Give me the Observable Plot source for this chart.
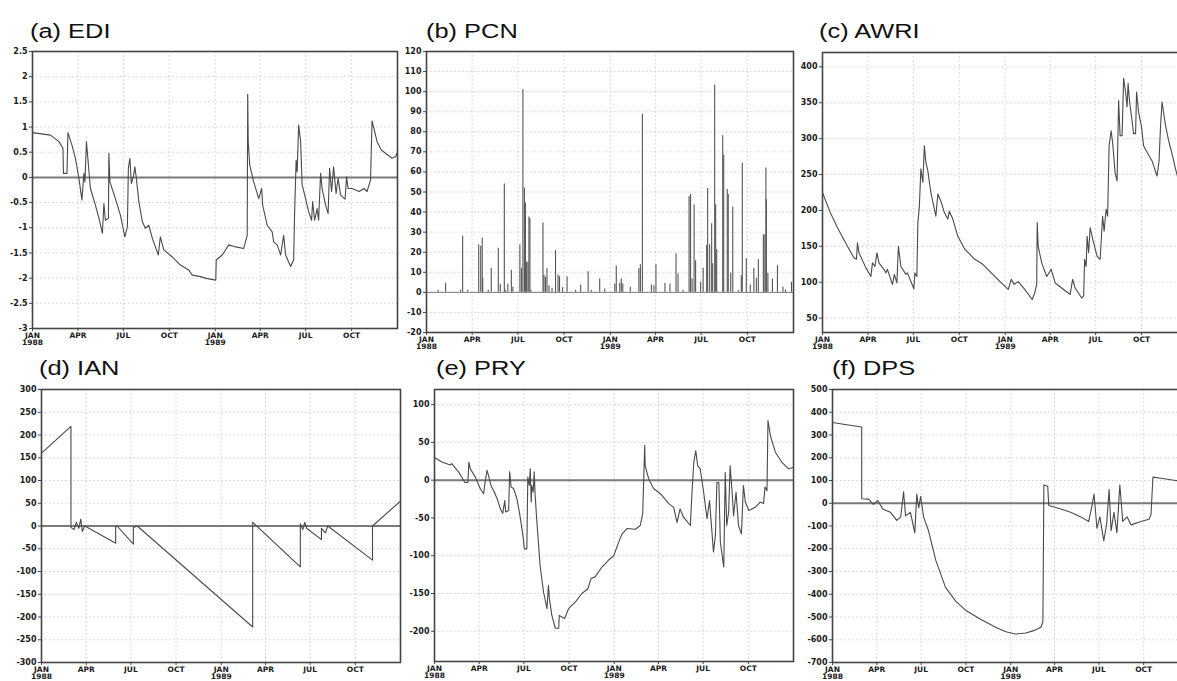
<!DOCTYPE html>
<html>
<head>
<meta charset="utf-8">
<script src="https://cdn.jsdelivr.net/npm/d3@7"></script>
<script src="https://cdn.jsdelivr.net/npm/@observablehq/plot@0.6"></script>
<style>
  html, body { margin: 0; padding: 0; background: #fff; }
  #fig { position: relative; width: 1177px; height: 681px; overflow: hidden; background: #fff; }
  .ttl { position: absolute; font-family: "Liberation Sans", Arial, sans-serif; font-size: 20px; line-height: 20px;
         color: #111; transform: scaleX(1.27); transform-origin: 0 0; white-space: nowrap; }
  .pn { position: absolute; }
</style>
</head>
<body>
<div id="fig"></div>
<script>
// ---- data (day offset from 1988-01-01, value) ----
const ediDays = [0,36,53,61,62,69,71,79,86,93,99,103,105,108,116,126,133,140,143,146,152,153,155,166,176,185,190,192,195,198,202,205,208,213,220,226,233,240,252,256,263,280,296,313,320,336,350,367,368,380,393,407,423,430,431,432,435,443,453,459,461,470,480,483,490,497,503,507,513,517,523,525,528,530,533,537,540,547,553,559,561,565,570,573,577,580,587,592,595,599,603,608,612,617,626,629,632,640,654,664,670,677,680,684,690,699,707,720,727,730];
const ediVals = [0.89,0.84,0.71,0.58,0.08,0.08,0.89,0.64,0.38,-0.02,-0.45,0.08,-0.09,0.71,-0.22,-0.55,-0.81,-1.11,-0.52,-0.85,-0.81,0.48,-0.09,-0.42,-0.75,-1.18,-0.98,0.18,0.38,-0.12,0.01,0.21,-0.02,-0.48,-0.88,-1.01,-0.95,-1.21,-1.54,-1.18,-1.44,-1.58,-1.74,-1.84,-1.94,-1.97,-2.01,-2.04,-1.64,-1.54,-1.34,-1.38,-1.41,-1.15,1.65,0.71,0.25,-0.09,-0.42,-0.22,-0.55,-0.95,-1.08,-1.28,-1.34,-1.54,-1.15,-1.54,-1.68,-1.77,-1.64,-0.68,0.34,0.11,1.04,0.71,-0.15,-0.42,-0.68,-0.85,-0.48,-0.85,-0.62,-0.85,0.08,-0.22,-0.55,-0.72,0.18,-0.28,0.21,-0.32,-0.02,-0.35,-0.43,0.01,-0.22,-0.22,-0.28,-0.22,-0.28,-0.05,1.12,0.97,0.71,0.54,0.48,0.38,0.41,0.48];

const pcnDays = [23,38,68,72,82,104,108,111,112,123,129,143,147,155,157,162,169,172,186,189,192,195,197,199,202,204,206,208,232,234,237,240,244,250,257,262,265,271,280,297,307,322,328,345,355,375,378,385,388,391,406,423,426,430,448,453,457,475,485,497,501,511,523,526,529,533,536,546,551,558,560,564,568,570,574,576,578,590,592,599,601,606,610,621,627,629,637,645,652,657,661,671,674,676,677,680,689,699,710,715,727];
const pcnVals = [1,4.5,1,28,1,23.7,23,27,7,1,12,22,4,54,1,4,11,2.5,23.7,12,101,52,44.5,15,15,37.5,36.7,1,34.5,8.7,7.5,11.7,3.3,2,20.8,8.7,7.8,2.3,7.8,1,3.7,10.3,1,6.7,1.7,4.2,13,4.5,6.7,4.2,2.5,11.7,13.7,88.7,3.7,3.3,13.7,4.5,4.2,19.2,9.2,1,47.8,48.7,6.7,43.7,15.8,5,12,23.3,51.7,23.7,34.2,14.2,103.3,43.7,21.2,78,68.3,51.2,48.7,9.5,42.5,1,8.3,64.2,16.7,3.7,12,7,16.2,28.7,28.7,62,46.2,9.5,6.7,13.3,2.5,1.2,5];

const awriDays = [0,15,30,50,63,68,70,73,87,97,100,105,109,113,123,127,130,140,144,149,152,157,167,170,183,185,189,191,194,197,201,204,207,211,217,227,231,238,244,251,254,261,271,285,305,321,338,358,372,378,384,392,405,420,425,429,430,432,439,449,458,466,479,496,501,506,519,523,525,528,530,533,536,540,543,550,556,561,564,568,571,574,578,581,586,590,593,596,600,603,607,610,612,615,620,623,627,629,633,639,643,650,660,670,674,677,680,687,694,701,707,714,731];
const awriVals = [225,198,176,150,134,132,155,141,120,108,127,122,141,127,118,113,118,97,111,99,150,122,111,113,91,113,108,183,206,258,239,290,267,255,225,192,223,211,197,188,199,188,164,146,132,125,113,99,90,104,97,101,90,76,85,97,183,150,127,108,118,99,92,83,104,92,78,81,132,122,164,141,176,164,155,136,132,192,171,202,192,290,311,295,253,241,353,304,304,384,365,344,377,351,325,307,307,365,337,316,290,281,269,248,269,318,351,318,295,276,258,239,205];

const ianDays = [0,60,60,66,71,76,80,83,88,92,151,151,154,187,187,195,430,430,527,527,532,536,540,570,570,578,583,674,674,731];
const ianVals = [160,219,-3,-8,8,-5,15,-12,0,-2,-38,-2,0,-40,-3,0,-222,8,-90,5,-8,8,-5,-30,-5,-15,0,-75,0,55];

const pryDays = [0,15,32,35,49,62,68,70,73,83,93,100,103,107,110,115,122,129,134,139,143,145,151,153,156,161,168,174,180,183,188,190,193,195,197,198,201,203,205,208,215,222,229,232,234,239,246,253,254,265,273,287,300,312,319,327,341,354,365,375,382,392,409,419,424,428,429,436,446,456,463,477,487,494,500,507,521,524,528,532,536,541,548,555,560,565,568,572,575,579,582,589,592,595,599,602,606,609,614,619,625,629,633,640,653,663,670,673,677,679,684,694,707,721,731];
const pryVals = [30,24,20,22,11,-3,-3,24,15,4,-11,-18,-3,13,6,-7,-16,-27,-38,-44,-27,-42,-40,11,-9,-11,-25,-47,-73,-91,-91,4,-7,15,-29,-7,-16,11,-20,-51,-113,-148,-170,-139,-157,-179,-196,-196,-179,-183,-170,-161,-150,-144,-130,-128,-115,-106,-100,-82,-71,-64,-65,-60,-44,46,19,2,-11,-16,-20,-31,-36,-56,-38,-49,-60,-20,24,39,19,15,-16,-51,-27,-69,-95,-73,-3,-3,-82,-115,10,-60,-42,19,-16,-47,-16,-60,-71,-7,-29,-40,-36,-29,-31,-9,-14,79,59,37,24,15,17];

const dpsDays = [0,29,60,60,74,84,93,103,119,132,140,146,150,160,169,173,177,181,187,197,212,232,253,273,304,335,356,376,397,413,428,432,434,442,444,469,489,510,526,532,537,543,549,557,563,568,572,578,584,590,596,605,613,633,650,654,658,674,705,731];
const dpsVals = [355,345,335,20,18,-5,12,-25,-40,-75,-60,50,-55,-40,-130,40,-20,30,-60,-120,-250,-370,-430,-470,-510,-545,-565,-575,-570,-560,-545,-520,80,75,-10,-25,-40,-60,-80,-20,40,-110,-60,-165,-90,60,-120,-40,-130,80,-80,-60,-95,-80,-70,-50,115,110,100,95];

// ---- ticks ----
const monthNames = ["JAN","APR","JUL","OCT"];
const quarterTicks = [1988,1989].flatMap(y => [0,3,6,9].map(m => new Date(Date.UTC(y, m, 1))));
const ediTicks = [2.5,2,1.5,1,0.5,0,-0.5,-1,-1.5,-2,-2.5,-3];
const pcnTicks = [120,110,100,90,80,70,60,50,40,30,20,10,0,-10,-20];
const awriTicks = [400,350,300,250,200,150,100,50];
const ianTicks = [300,250,200,150,100,50,0,-50,-100,-150,-200,-250,-300];
const pryTicks = [100,50,0,-50,-100,-150,-200];
const dpsTicks = [500,400,300,200,100,0,-100,-200,-300,-400,-500,-600,-700];

const t0 = Date.UTC(1988, 0, 1);
const toRows = (days, vals) => days.map((d, i) => ({date: new Date(t0 + d * 864e5), v: vals[i]}));
const xFmt = d => monthNames[d.getUTCMonth() / 3] + (d.getUTCMonth() === 0 ? "\n" + d.getUTCFullYear() : "");

const fig = document.getElementById("fig");

function panel(o) {
  const ml = 32, mr = 4, mt = 10, mb = 26;
  const w = o.x1 - o.x0, h = o.y1 - o.y0;
  const rows = toRows(o.days, o.vals);
  const grid = {stroke: "#c4c4c4", strokeOpacity: 1, strokeDasharray: "1.5,2.5", strokeWidth: 0.8};
  const marks = [
    Plot.gridY(o.yticks, grid),
    Plot.gridX(quarterTicks, grid),
  ];
  if (o.zero) marks.push(Plot.ruleY([0], {stroke: "#7a7a7a", strokeWidth: o.zeroW || 2}));
  if (o.bars) {
    marks.push(Plot.ruleX(rows, {x: "date", y1: 0, y2: "v", stroke: "#555", strokeWidth: 1.1}));
  } else {
    marks.push(Plot.line(rows, {x: "date", y: "v", stroke: "#4a4a4a", strokeWidth: 1.1, clip: true}));
  }
  marks.push(Plot.frame({stroke: "#444", strokeWidth: 1.6}));
  marks.push(Plot.axisY(o.yticks, {label: null, tickSize: 3, tickPadding: 2, tickFormat: d => String(d), fill: "#1a1a1a", stroke: "#444", fontWeight: "bold", fontSize: 8}));
  marks.push(Plot.axisX(quarterTicks, {label: null, tickSize: 3, tickPadding: 2, tickFormat: xFmt, fill: "#1a1a1a", stroke: "#444", lineHeight: 0.9, fontWeight: "bold", fontSize: 7.5}));
  const svg = Plot.plot({
    width: w + ml + mr, height: h + mt + mb,
    marginLeft: ml, marginRight: mr, marginTop: mt, marginBottom: mb,
    x: {type: "utc", domain: [new Date(t0), new Date(Date.UTC(1990, 0, 1))], label: null},
    y: {domain: o.ydomain, label: null},
    style: {fontFamily: "'DejaVu Sans', sans-serif", fontSize: "8px", fontWeight: "bold", background: "transparent", overflow: "visible", maxWidth: "none"},
    marks
  });
  svg.classList.add("pn");
  svg.style.left = (o.x0 - ml) + "px";
  svg.style.top = (o.y0 - mt) + "px";
  fig.appendChild(svg);
  const t = document.createElement("div");
  t.className = "ttl";
  t.textContent = o.title;
  t.style.left = o.tx + "px";
  t.style.top = o.ty + "px";
  fig.appendChild(t);
}

panel({title: "(a) EDI", tx: 30, ty: 21, x0: 32, x1: 397, y0: 51, y1: 328, days: ediDays, vals: ediVals, yticks: ediTicks, ydomain: [-3, 2.5], zero: true});
panel({title: "(b) PCN", tx: 426, ty: 21, x0: 426, x1: 793, y0: 51, y1: 332, days: pcnDays, vals: pcnVals, yticks: pcnTicks, ydomain: [-20, 120], zero: true, zeroW: 1, bars: true});
panel({title: "(c) AWRI", tx: 819, ty: 21, x0: 822, x1: 1187, y0: 52, y1: 332, days: awriDays, vals: awriVals, yticks: awriTicks, ydomain: [30, 420]});
panel({title: "(d) IAN", tx: 39, ty: 358, x0: 41, x1: 400, y0: 389, y1: 662, days: ianDays, vals: ianVals, yticks: ianTicks, ydomain: [-300, 300], zero: true});
panel({title: "(e) PRY", tx: 436, ty: 358, x0: 434, x1: 793, y0: 389, y1: 661, days: pryDays, vals: pryVals, yticks: pryTicks, ydomain: [-240, 120], zero: true});
panel({title: "(f) DPS", tx: 832, ty: 358, x0: 832, x1: 1188, y0: 389, y1: 662, days: dpsDays, vals: dpsVals, yticks: dpsTicks, ydomain: [-700, 500], zero: true});
</script>
</body>
</html>
